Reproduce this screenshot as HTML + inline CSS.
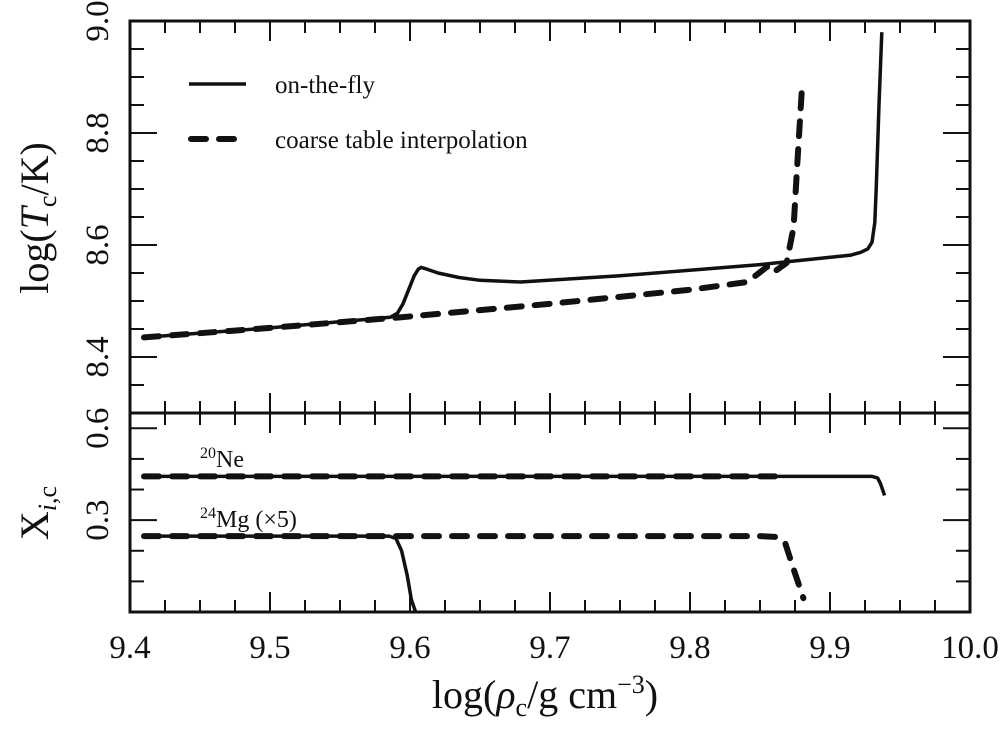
<!DOCTYPE html>
<html><head><meta charset="utf-8"><style>
body{margin:0;background:#fff}
svg text{font-family:"Liberation Serif",serif;fill:#111}
</style></head><body>
<svg id="c" width="1000" height="735" xmlns="http://www.w3.org/2000/svg"></svg>
<script>
const xTicks=[9.4,9.5,9.6,9.7,9.8,9.9,10.0];
const xTickLabels=["9.4","9.5","9.6","9.7","9.8","9.9","10.0"];
const tTicks=[8.4,8.6,8.8,9.0];
const tTickLabels=["8.4","8.6","8.8","9.0"];
const xTicksB=[0.3,0.6];
const xTickLabelsB=["0.3","0.6"];
const solidRho=[9.41,9.5,9.586,9.591,9.595,9.599,9.603,9.606,9.608,9.612,9.62,9.635,9.65,9.679,9.75,9.85,9.915,9.922,9.927,9.93,9.932,9.933,9.935,9.937];
const solidT=[8.435,8.452,8.471,8.478,8.495,8.52,8.545,8.557,8.56,8.557,8.55,8.542,8.537,8.534,8.545,8.565,8.582,8.587,8.593,8.605,8.64,8.7,8.85,8.98];
const dashRho=[9.41,9.5,9.594,9.7,9.8,9.841,9.855,9.859,9.869,9.874,9.877,9.88];
const dashT=[8.435,8.452,8.471,8.495,8.52,8.534,8.561,8.55,8.568,8.632,8.76,8.882];
const neSolidRho=[9.41,9.93,9.934,9.936,9.939];
const neSolidX=[0.443,0.443,0.438,0.42,0.381];
const neDashRho=[9.41,9.868];
const neDashX=[0.443,0.443];
const mgSolidRho=[9.41,9.585,9.59,9.594,9.598,9.601,9.604];
const mgSolidX=[0.248,0.248,0.24,0.2,0.12,0.04,0.0];
const mgDashRho=[9.41,9.85,9.862,9.868,9.874,9.881];
const mgDashX=[0.248,0.248,0.245,0.225,0.14,0.045];

const L=130,R=970,T1=21,B1=413,B2=612;
const X=v=>L+(v-9.4)/0.6*(R-L);
const YT=v=>B1-(v-8.3)/0.7*(B1-T1);
const YB=v=>B2-v/0.65*(B2-B1);
const svg=document.getElementById('c');
const NS="http://www.w3.org/2000/svg";
function mk(tag,attrs,name,parent){const e=document.createElementNS(NS,tag);for(const k in attrs)e.setAttribute(k,attrs[k]);


(parent||svg).appendChild(e);return e;}
function path(xs,ys,fy,dash,name){let d=xs.map((x,i)=>(i?'L':'M')+X(x).toFixed(1)+' '+fy(ys[i]).toFixed(1)).join(' ');
const a={d:d,fill:'none',stroke:'#111','stroke-width':dash?6:3.5,'stroke-linejoin':'round','stroke-linecap':dash?'round':'butt'};
if(dash)a['stroke-dasharray']='15 13';mk('path',a,name);}
for(let v=9.4;v<=10.001;v+=0.025){const x=X(v);const maj=Math.abs(v*10-Math.round(v*10))<1e-6;const len=maj?20:12;
[[T1,1],[B1,1],[B1,-1],[B2,-1]].forEach(([y,s])=>{mk('line',{x1:x,x2:x,y1:y,y2:y+s*len,stroke:'#111','stroke-width':2},'x-tick');});}
xTicks.forEach((v,i)=>{const t=mk('text',{x:X(v),y:658,'text-anchor':'middle','font-size':33},'x-tick-label');t.textContent=xTickLabels[i];});
for(let v=8.3;v<=9.0001;v+=0.05){const y=YT(v);const maj=Math.abs(v*5-Math.round(v*5))<1e-6;const len=maj?27:14;
mk('line',{x1:L,x2:L+len,y1:y,y2:y,stroke:'#111','stroke-width':2},'y-tick');mk('line',{x1:R,x2:R-len,y1:y,y2:y,stroke:'#111','stroke-width':2},'y-tick');}
tTicks.forEach((v,i)=>{const y=YT(v);const t=mk('text',{transform:`translate(108,${y}) rotate(-90)`,'text-anchor':'middle','font-size':33},'y-tick-label');t.textContent=tTickLabels[i];});
for(let v=0.1;v<=0.6001;v+=0.1){const y=YB(v);const maj=Math.abs(v-0.3)<1e-6||Math.abs(v-0.6)<1e-6;const len=maj?27:14;
mk('line',{x1:L,x2:L+len,y1:y,y2:y,stroke:'#111','stroke-width':2},'y-tick');mk('line',{x1:R,x2:R-len,y1:y,y2:y,stroke:'#111','stroke-width':2},'y-tick');}
xTicksB.forEach((v,i)=>{const y=YB(v);const t=mk('text',{transform:`translate(108,${y}) rotate(-90)`,'text-anchor':'middle','font-size':33},'y-tick-label-bottom');t.textContent=xTickLabelsB[i];});
mk('rect',{x:L,y:T1,width:R-L,height:B2-T1,fill:'none',stroke:'#111','stroke-width':3},'plot-frame');
mk('line',{x1:L,x2:R,y1:B1,y2:B1,stroke:'#111','stroke-width':3},'panel-divider');
path(solidRho,solidT,YT,false,'on-the-fly-line');
path(dashRho,dashT,YT,true,'coarse-table-line');
path(neSolidRho,neSolidX,YB,false,'ne20-solid');
path(neDashRho,neDashX,YB,true,'ne20-dashed');
path(mgSolidRho,mgSolidX,YB,false,'mg24-solid');
path(mgDashRho,mgDashX,YB,true,'mg24-dashed');
mk('line',{x1:189,x2:246,y1:84,y2:84,stroke:'#111','stroke-width':3.5},'legend-solid-swatch');
mk('line',{x1:191,x2:243,y1:139,y2:139,stroke:'#111','stroke-width':6,'stroke-dasharray':'15 13','stroke-linecap':'round'},'legend-dashed-swatch');
let t=mk('text',{x:275,y:93,'font-size':25},'legend-on-the-fly');t.textContent='on-the-fly';
t=mk('text',{x:275,y:148,'font-size':25},'legend-coarse');t.textContent='coarse table interpolation';
t=mk('text',{x:200,y:467,'font-size':24},'ne20-label');t.innerHTML='<tspan font-size="16" dy="-9">20</tspan><tspan dy="9">Ne</tspan>';
t=mk('text',{x:200,y:527,'font-size':24},'mg24-label');t.innerHTML='<tspan font-size="16" dy="-9">24</tspan><tspan dy="9">Mg (×5)</tspan>';
t=mk('text',{transform:'translate(48,218) rotate(-90)','text-anchor':'middle','font-size':40},'y-axis-title-top');t.innerHTML='log(<tspan font-style="italic">T</tspan><tspan font-size="26" dy="8">c</tspan><tspan dy="-8">/K)</tspan>';
t=mk('text',{transform:'translate(48,513) rotate(-90)','text-anchor':'middle','font-size':40},'y-axis-title-bottom');t.innerHTML='X<tspan font-size="26" dy="8"><tspan font-style="italic">i</tspan>,c</tspan>';
t=mk('text',{x:545,y:708,'text-anchor':'middle','font-size':40},'x-axis-title');t.innerHTML='log(<tspan font-style="italic">ρ</tspan><tspan font-size="26" dy="8">c</tspan><tspan dy="-8">/g cm</tspan><tspan font-size="26" dy="-15">−3</tspan><tspan dy="15">)</tspan>';
</script>
</body></html>
